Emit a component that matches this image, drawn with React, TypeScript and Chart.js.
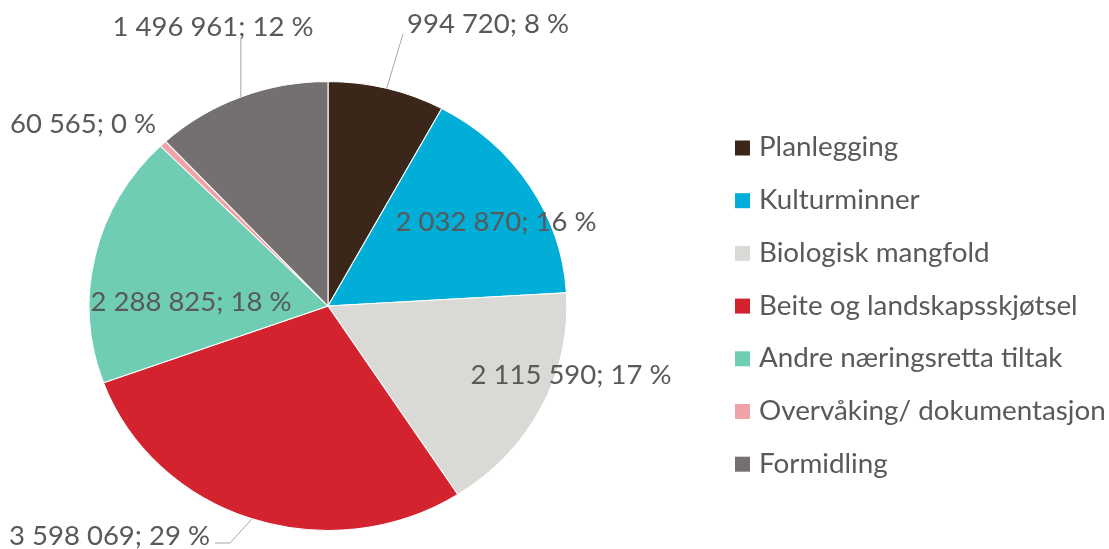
import React, { useEffect, useRef } from "react";
import { Chart, registerables } from "chart.js";
Chart.register(...registerables);

const categories = [
  "Planlegging",
  "Kulturminner",
  "Biologisk mangfold",
  "Beite og landskapsskjøtsel",
  "Andre næringsretta tiltak",
  "Overvåking/ dokumentasjon",
  "Formidling",
];
const amounts = [994720, 2032870, 2115590, 3598069, 2288825, 60565, 1496961];
const colors = ["#3B2719", "#00AED8", "#D9D9D6", "#D2232F", "#6ECDB2", "#EFA3A8", "#757070"];

// label layout relative to pie centre (text anchor + optional leader line)
const labelLayout = [
  { dx: 79, dy: -282, align: "left", line: [[75, -272]] },
  { dx: 168, dy: -84, align: "center" },
  { dx: 243, dy: 69, align: "center" },
  { dx: -118, dy: 230, align: "right", line: [[-98, 237], [-113, 237]] },
  { dx: -137, dy: -4, align: "center" },
  { dx: -245, dy: -182, align: "center" },
  { dx: -115, dy: -279, align: "center", line: [["v", -266]] },
];

const FONT = "Lato, 'Noto Sans', sans-serif";
const TEXT = "#595959";
const SX = 1.064;

const fmt = (v: number) => v.toString().replace(/\B(?=(\d{3})+(?!\d))/g, " ");

const ellipsePlugin = {
  id: "ellipse",
  beforeDatasetsDraw(chart: any) {
    const arc = chart.getDatasetMeta(0).data[0];
    const ctx = chart.ctx;
    ctx.save();
    ctx.translate(arc.x, arc.y);
    ctx.scale(SX, 1);
    ctx.translate(-arc.x, -arc.y);
  },
  afterDatasetsDraw(chart: any) {
    const ctx = chart.ctx;
    ctx.restore();
    const meta = chart.getDatasetMeta(0);
    const total = amounts.reduce((a, b) => a + b, 0);
    ctx.save();
    ctx.font = `27.5px ${FONT}`;
    ctx.fillStyle = TEXT;
    ctx.textBaseline = "middle";
    meta.data.forEach((el: any, i: number) => {
      const L = labelLayout[i];
      const cx = el.x, cy = el.y;
      const text = `${fmt(amounts[i])}; ${Math.round((amounts[i] / total) * 100)} %`;
      if (L.line) {
        const mid = (el.startAngle + el.endAngle) / 2;
        const px = cx + Math.cos(mid) * el.outerRadius * SX;
        const py = cy + Math.sin(mid) * el.outerRadius;
        ctx.beginPath();
        ctx.strokeStyle = "#A6A6A6";
        ctx.lineWidth = 1;
        ctx.moveTo(px, py);
        L.line.forEach((p: any) => {
          if (p[0] === "v") ctx.lineTo(px, cy + p[1]);
          else ctx.lineTo(cx + p[0], cy + p[1]);
        });
        ctx.stroke();
      }
      ctx.textAlign = L.align as CanvasTextAlign;
      ctx.fillText(text, cx + L.dx, cy + L.dy);
    });
    ctx.restore();
  },
  afterDraw(chart: any) {
    const ctx = chart.ctx;
    ctx.save();
    ctx.font = `27.8px ${FONT}`;
    ctx.textBaseline = "middle";
    ctx.textAlign = "left";
    categories.forEach((c, i) => {
      const y = 147.5 + i * 52.7;
      ctx.fillStyle = colors[i];
      ctx.fillRect(735, y - 7, 15, 15);
      ctx.fillStyle = TEXT;
      ctx.fillText(c, 759, y);
    });
    ctx.restore();
  },
};

export default function App() {
  const ref = useRef<HTMLCanvasElement>(null);
  useEffect(() => {
    document.body.style.margin = "0";
    const chart = new Chart(ref.current!, {
      type: "pie",
      data: {
        labels: categories,
        datasets: [
          {
            data: amounts,
            backgroundColor: colors,
            borderColor: "#ffffff",
            borderWidth: 1,
          },
        ],
      },
      options: {
        responsive: false,
        animation: false,
        layout: { padding: { left: 103, right: 556, top: 81, bottom: 18 } },
        plugins: { legend: { display: false }, tooltip: { enabled: false } },
      },
      plugins: [ellipsePlugin],
    });
    return () => chart.destroy();
  }, []);
  return (
    <div style={{ width: 1109, height: 549, background: "#fff" }}>
      <canvas ref={ref} width={1109} height={549} />
    </div>
  );
}
